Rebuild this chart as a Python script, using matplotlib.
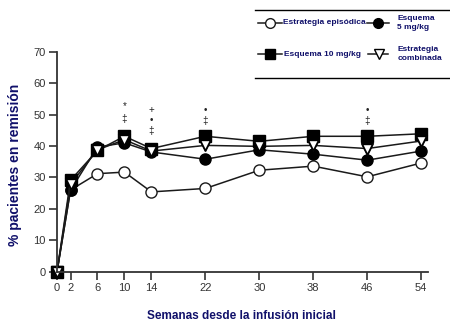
import numpy as np
import matplotlib
matplotlib.use('Agg')
import matplotlib.pyplot as plt
from matplotlib.lines import Line2D

plt.rcParams['font.family'] = ['Liberation Sans', 'DejaVu Sans']

weeks = [0, 2, 6, 10, 14, 22, 30, 38, 46, 54]
episodica = [0, 26.0, 31.2, 31.7, 25.4, 26.5, 32.3, 33.6, 30.2, 34.6]
esq5 = [0, 25.9, 39.7, 41.0, 38.1, 35.8, 38.8, 37.4, 35.5, 38.4]
esq10 = [0, 29.1, 38.6, 43.1, 39.2, 43.1, 41.5, 43.1, 43.1, 43.9]
combinada = [0, 27.8, 38.8, 42.0, 38.4, 40.2, 39.9, 40.2, 39.2, 41.6]

# simbolos de significacion (semana, valor, simbolo)
sig_weeks = [10, 10, 14, 14, 14, 22, 22, 46, 46]
sig_y = [52.8, 48.6, 51.6, 48.2, 44.8, 51.6, 48.0, 51.6, 48.0]
sig_txt = ['*', '‡', '+', '•', '‡', '•', '‡', '•', '‡']

leg_labels = ['Estrategia episódica', 'Esquema\n5 mg/kg', 'Esquema 10 mg/kg', 'Estrategia\ncombinada']

navy = '#10106a'
dark = '#1a1a1a'

fig = plt.figure(figsize=(4.5, 3.34), dpi=100)
ax = fig.add_axes([0.1267, 0.1865, 0.8243, 0.6585])

styles = [dict(marker='o', mfc='white', mec=dark),
          dict(marker='o', mfc='black', mec='black'),
          dict(marker='s', mfc='black', mec='black'),
          dict(marker='v', mfc='white', mec='black')]

kw = dict(color=dark, lw=1.1, markersize=8, clip_on=False, markeredgewidth=1.0)
ax.plot(weeks, episodica, **styles[0], **kw)
ax.plot(weeks, esq5, **styles[1], **kw)
ax.plot(weeks, combinada, **styles[3], **kw)
ax.plot(weeks, esq10, **styles[2], **kw)
ax.plot(weeks, combinada, ls='none', markersize=7, clip_on=False,
        markeredgewidth=1.0, **styles[3])

for w, yv, s in zip(sig_weeks, sig_y, sig_txt):
    ax.text(w, yv, s, ha='center', va='center', fontsize=7, color='#222222')

ax.set_xlim(0, 55)
ax.set_ylim(0, 70)
ax.set_xticks(weeks)
ax.set_yticks(range(0, 71, 10))
ax.spines['top'].set_visible(False)
ax.spines['right'].set_visible(False)
for sp in ['left', 'bottom']:
    ax.spines[sp].set_linewidth(1.3)
    ax.spines[sp].set_color('#333333')
ax.tick_params(axis='both', length=6, width=1.2, color='#333333',
               labelsize=8, labelcolor='#333333', pad=2)

ax.set_xlabel('Semanas desde la infusión inicial', fontsize=8.5, fontweight='bold', color=navy)
ax.set_ylabel('% pacientes en remisión', fontsize=10, fontweight='bold', color=navy)
ax.xaxis.set_label_coords(0.496, -0.172)
ax.yaxis.set_label_coords(-0.094, 0.485)

# leyenda manual
W, H = 450.0, 334.0
leg_pos = [(270, 23, 258, 282, 283), (378, 23, 367, 389, 397),
           (270, 54, 258, 282, 284), (379, 54, 368, 388, 398)]
for st, lab, (mx, my, x0, x1, tx) in zip(styles, leg_labels, leg_pos):
    fig.add_artist(Line2D([x0 / W, x1 / W], [1 - my / H, 1 - my / H], color=dark, lw=1.1))
    fig.add_artist(Line2D([mx / W], [1 - my / H], ls='none', markersize=7,
                          markeredgewidth=1.0, **st))
    fig.text(tx / W, 1 - my / H, lab, fontsize=6, fontweight='bold', color=navy,
             ha='left', va='center', linespacing=1.25)

fig.add_artist(Line2D([255 / W, 1.0], [1 - 9.5 / H, 1 - 9.5 / H], color='black', lw=1.0))
fig.add_artist(Line2D([255 / W, 1.0], [1 - 78 / H, 1 - 78 / H], color='black', lw=1.0))

fig.savefig('out.png', dpi=100)
